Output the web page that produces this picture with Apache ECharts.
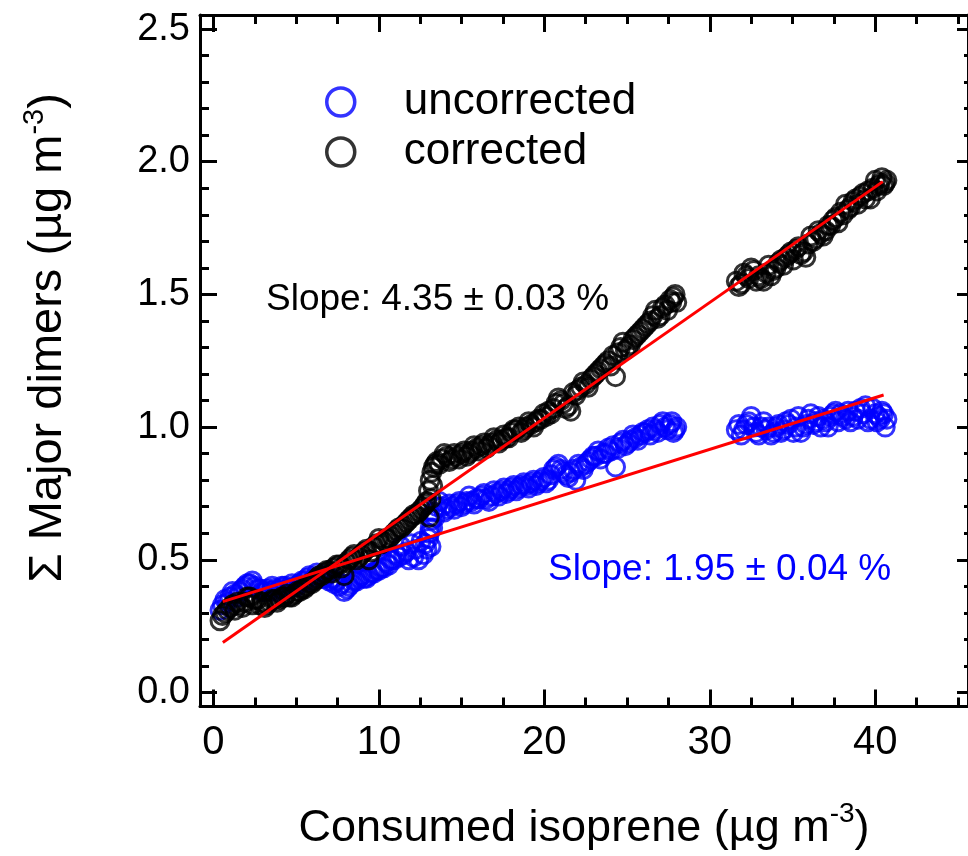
<!DOCTYPE html>
<html>
<head>
<meta charset="utf-8">
<script src="https://cdn.jsdelivr.net/npm/echarts@6/dist/echarts.min.js"></script>
<style>
  html, body { margin: 0; padding: 0; background: #fff; }
  #chart { width: 968px; height: 856px; }
</style>
</head>
<body>
<div id="chart"></div>
<script>
// ---- data ----
const consumedIsoprene = [
  0.4, 0.7, 1.0, 1.3, 1.6, 1.9, 2.2, 2.5, 2.8, 3.1, 3.4, 3.7, 4.0, 4.3, 4.6, 4.9,
  5.2, 5.5, 5.8, 6.1, 6.4, 6.7, 7.0, 7.3, 7.6, 7.9, 8.2, 8.5, 8.8, 9.1, 9.4, 9.7,
  10.0, 10.3, 10.6, 10.9, 11.2, 11.5, 11.8, 12.1, 12.4, 12.7, 12.9, 13.0, 13.1, 13.2,
  13.3, 13.5, 13.8, 14.1, 14.4, 14.7, 15.0, 15.3, 15.6, 15.9, 16.2, 16.5, 16.8, 17.1,
  17.4, 17.7, 18.0, 18.3, 18.6, 18.9, 19.2, 19.5, 19.8, 20.1, 20.4, 20.7, 21.0, 21.3,
  21.6, 21.9, 22.2, 22.5, 22.8, 23.1, 23.4, 23.7, 24.0, 24.3, 24.6, 24.9, 25.2, 25.5,
  25.8, 26.1, 26.4, 26.7, 27.0, 27.3, 27.6, 27.8, 28.0,
  31.6, 31.9, 32.2, 32.5, 32.8, 33.1, 33.4, 33.7, 34.0, 34.3, 34.6, 34.9, 35.2, 35.5,
  35.8, 36.1, 36.4, 36.7, 37.0, 37.3, 37.6, 37.9, 38.2, 38.5, 38.8, 39.1, 39.4, 39.7,
  40.0, 40.2, 40.4, 40.6, 40.7,
  // second pass of samples
  0.55, 0.85, 1.15, 1.45, 1.75, 2.05, 2.35, 2.65, 2.95, 3.25, 3.55, 3.85, 4.15, 4.45, 4.75, 5.05,
  5.35, 5.65, 5.95, 6.25, 6.55, 6.85, 7.15, 7.45, 7.75, 8.05, 8.35, 8.65, 8.95, 9.25, 9.55, 9.85,
  10.15, 10.45, 10.75, 11.05, 11.35, 11.65, 11.95, 12.25, 12.55, 12.8, 13.05, 13.15, 13.25, 13.4,
  13.65, 13.95, 14.25, 14.55, 14.85, 15.15, 15.45, 15.75, 16.05, 16.35, 16.65, 16.95, 17.25, 17.55,
  17.85, 18.15, 18.45, 18.75, 19.05, 19.35, 19.65, 19.95, 20.25, 20.55, 20.85, 21.15, 21.45, 21.75,
  22.05, 22.35, 22.65, 22.95, 23.25, 23.55, 23.85, 24.15, 24.45, 24.75, 25.05, 25.35, 25.65, 25.95,
  26.25, 26.55, 26.85, 27.15, 27.45, 27.7, 27.9,
  31.75, 32.05, 32.35, 32.65, 32.95, 33.25, 33.55, 33.85, 34.15, 34.45, 34.75, 35.05, 35.35, 35.65,
  35.95, 36.25, 36.55, 36.85, 37.15, 37.45, 37.75, 38.05, 38.35, 38.65, 38.95, 39.25, 39.55, 39.85,
  40.1, 40.3, 40.5
];
const uncorrectedDimers = [
  0.31, 0.35, 0.36, 0.37, 0.38, 0.40, 0.41, 0.40, 0.39, 0.38, 0.38, 0.39, 0.39, 0.40, 0.39, 0.40,
  0.41, 0.42, 0.44, 0.43, 0.44, 0.43, 0.42, 0.41, 0.40, 0.38, 0.40, 0.42, 0.43, 0.43, 0.44, 0.45,
  0.46, 0.47, 0.48, 0.50, 0.51, 0.52, 0.50, 0.51, 0.50, 0.52, 0.54, 0.58, 0.62, 0.65,
  0.68, 0.70, 0.70, 0.69, 0.70, 0.71, 0.70, 0.72, 0.72, 0.73, 0.74, 0.73, 0.74, 0.75,
  0.76, 0.75, 0.77, 0.76, 0.78, 0.78, 0.79, 0.78, 0.80, 0.79, 0.82, 0.85, 0.84, 0.82,
  0.83, 0.80, 0.85, 0.86, 0.88, 0.89, 0.88, 0.90, 0.91, 0.85, 0.94, 0.93, 0.95, 0.96,
  0.97, 0.98, 0.97, 0.99, 1.01, 1.00, 1.01, 0.98, 1.00,
  0.99, 0.97, 1.01, 1.04, 0.98, 1.00, 0.99, 0.97, 1.00, 0.98, 1.02, 1.03, 1.00, 0.98,
  1.01, 1.05, 1.02, 1.00, 1.02, 1.04, 1.06, 1.05, 1.03, 1.02, 1.06, 1.07, 1.08, 1.03,
  1.05, 1.04, 1.06, 1.00, 1.03,
  // second pass of samples
  0.33, 0.34, 0.38, 0.36, 0.39, 0.41, 0.42, 0.39, 0.38, 0.39, 0.40, 0.38, 0.40, 0.39, 0.41, 0.40,
  0.42, 0.43, 0.42, 0.45, 0.43, 0.44, 0.43, 0.42, 0.41, 0.39, 0.41, 0.42, 0.44, 0.43, 0.45, 0.46,
  0.47, 0.49, 0.50, 0.52, 0.55, 0.53, 0.56, 0.54, 0.57, 0.56, 0.60, 0.55, 0.62, 0.66,
  0.72, 0.68, 0.71, 0.69, 0.72, 0.71, 0.74, 0.71, 0.73, 0.75, 0.72, 0.76, 0.74, 0.77,
  0.76, 0.78, 0.77, 0.79, 0.77, 0.80, 0.79, 0.81, 0.80, 0.84, 0.86, 0.83, 0.81, 0.84,
  0.86, 0.84, 0.87, 0.89, 0.91, 0.90, 0.92, 0.93, 0.92, 0.95, 0.94, 0.97, 0.95, 0.98,
  0.99, 1.00, 0.98, 1.02, 0.99, 1.02, 0.99,
  1.01, 0.99, 1.02, 1.00, 0.97, 1.02, 1.00, 0.98, 1.01, 0.99, 1.01, 0.98, 1.04, 1.00,
  1.03, 1.01, 1.04, 1.03, 1.00, 1.05, 1.02, 1.04, 1.06, 1.04, 1.03, 1.05, 1.02, 1.07,
  1.02, 1.03, 1.05
];
const correctedDimers = [
  0.27, 0.30, 0.32, 0.31, 0.33, 0.34, 0.36, 0.35, 0.33, 0.32, 0.34, 0.35, 0.35, 0.36, 0.36, 0.37,
  0.38, 0.39, 0.41, 0.42, 0.44, 0.45, 0.46, 0.47, 0.48, 0.44, 0.50, 0.52, 0.51, 0.53, 0.50, 0.55,
  0.58, 0.57, 0.58, 0.60, 0.62, 0.63, 0.65, 0.67, 0.68, 0.70, 0.72, 0.76, 0.80, 0.83,
  0.85, 0.87, 0.88, 0.89, 0.88, 0.89, 0.90, 0.89, 0.91, 0.92, 0.93, 0.92, 0.94, 0.95,
  0.95, 0.96, 0.98, 0.99, 0.98, 1.00, 1.01, 1.02, 1.03, 1.04, 1.05, 1.09, 1.10, 1.07,
  1.06, 1.12, 1.15, 1.16, 1.18, 1.20, 1.22, 1.24, 1.23, 1.19, 1.30, 1.29, 1.31, 1.34,
  1.36, 1.38, 1.40, 1.44, 1.42, 1.46, 1.48, 1.49, 1.47,
  1.55, 1.54, 1.57, 1.60, 1.55, 1.56, 1.58, 1.57, 1.60, 1.63, 1.64, 1.66, 1.67, 1.65,
  1.64, 1.72, 1.71, 1.73, 1.74, 1.76, 1.79, 1.81, 1.84, 1.83, 1.86, 1.87, 1.86, 1.86,
  1.93, 1.91, 1.94, 1.92, 1.93,
  // second pass of samples
  0.29, 0.31, 0.33, 0.34, 0.32, 0.36, 0.33, 0.35, 0.34, 0.33, 0.35, 0.34, 0.36, 0.37, 0.36, 0.38,
  0.39, 0.40, 0.41, 0.43, 0.44, 0.46, 0.45, 0.48, 0.47, 0.49, 0.51, 0.50, 0.52, 0.54, 0.53, 0.56,
  0.56, 0.58, 0.59, 0.61, 0.62, 0.64, 0.66, 0.67, 0.69, 0.71, 0.66, 0.73, 0.78, 0.86,
  0.86, 0.90, 0.87, 0.90, 0.88, 0.91, 0.90, 0.93, 0.91, 0.94, 0.93, 0.96, 0.94, 0.97,
  0.96, 0.99, 1.00, 0.99, 1.02, 1.00, 1.03, 1.05, 1.06, 1.07, 1.11, 1.09, 1.08, 1.13,
  1.14, 1.17, 1.15, 1.19, 1.21, 1.23, 1.25, 1.27, 1.28, 1.32, 1.30, 1.33, 1.35, 1.37,
  1.39, 1.42, 1.41, 1.45, 1.44, 1.47, 1.50,
  1.53, 1.58, 1.56, 1.59, 1.57, 1.55, 1.61, 1.59, 1.62, 1.61, 1.65, 1.63, 1.68, 1.66,
  1.69, 1.70, 1.74, 1.72, 1.76, 1.78, 1.77, 1.80, 1.82, 1.85, 1.84, 1.88, 1.89, 1.90,
  1.89, 1.92, 1.91
];
// linear fit end points [x, y]
const correctedFitLine = [[0.57, 0.188], [40.45, 1.925]];
const uncorrectedFitLine = [[0.57, 0.342], [40.5, 1.121]];

const seriesNames = ['uncorrected', 'corrected'];
const seriesColors = ['#0000ff', '#000000'];
const slopeTexts = ['Slope: 1.95 \u00b1 0.04 %', 'Slope: 4.35 \u00b1 0.03 %'];

const xMajorTicks = [0, 10, 20, 30, 40];
const xMinorTicks = [2.5, 5, 7.5, 12.5, 15, 17.5, 22.5, 25, 27.5, 32.5, 35, 37.5, 42.5, 45];
const yMajorTicks = [0, 0.5, 1.0, 1.5, 2.0, 2.5];
const yMajorLabels = ['0.0', '0.5', '1.0', '1.5', '2.0', '2.5'];
const yMinorTicks = [0.1, 0.2, 0.3, 0.4, 0.6, 0.7, 0.8, 0.9, 1.1, 1.2, 1.3, 1.4,
                     1.6, 1.7, 1.8, 1.9, 2.1, 2.2, 2.3, 2.4];

const xRange = [-0.81, 45.6];
const yRange = [-0.053, 2.553];

// ---- chart ----
const FONT = '"Liberation Sans", Arial, sans-serif';
const chart = echarts.init(document.getElementById('chart'), null, { renderer: 'canvas' });

const pairs = (ys) => consumedIsoprene.map((x, i) => [x, ys[i]]);

function xAxisDef(pos, ticks, len, withLabels, extra) {
  return Object.assign({
    type: 'value', position: pos, min: xRange[0], max: xRange[1],
    axisLine: { show: true, onZero: false, lineStyle: { color: '#000', width: 3 } },
    axisTick: { show: true, inside: true, length: len, customValues: ticks, lineStyle: { color: '#000', width: 3 } },
    axisLabel: withLabels ? { show: true, customValues: ticks, color: '#000', fontSize: 40, fontFamily: FONT, margin: 16 } : { show: false },
    splitLine: { show: false }, minorTick: { show: false }
  }, extra || {});
}
function yAxisDef(pos, ticks, len, withLabels, extra) {
  return Object.assign({
    type: 'value', position: pos, min: yRange[0], max: yRange[1],
    axisLine: { show: true, onZero: false, lineStyle: { color: '#000', width: 3 } },
    axisTick: { show: true, inside: true, length: len, customValues: ticks, lineStyle: { color: '#000', width: 3 } },
    axisLabel: withLabels ? {
      show: true, customValues: ticks, color: '#000', fontSize: 38, fontFamily: FONT, margin: 10,
      formatter: (v) => yMajorLabels[yMajorTicks.findIndex(t => Math.abs(t - v) < 1e-9)]
    } : { show: false },
    splitLine: { show: false }, minorTick: { show: false }
  }, extra || {});
}

const option = {
  animation: false,
  backgroundColor: '#fff',
  textStyle: { fontFamily: FONT },
  grid: { left: 200, top: 15, width: 770, height: 693, containLabel: false },
  xAxis: [
    xAxisDef('bottom', xMajorTicks, 17, true, {
      name: '{n|Consumed isoprene (\u00b5g m}{s|-3}{n|)}',
      nameLocation: 'middle', nameGap: 94,
      nameTextStyle: {
        color: '#000', fontFamily: FONT,
        rich: {
          n: { fontSize: 45, lineHeight: 56, fontFamily: FONT, color: '#000' },
          s: { fontSize: 28, lineHeight: 12, verticalAlign: 'top', fontFamily: FONT, color: '#000' }
        }
      }
    }),
    xAxisDef('bottom', xMinorTicks, 9, false, { axisLine: { show: false, onZero: false } }),
    xAxisDef('top', xMajorTicks, 17, false),
    xAxisDef('top', xMinorTicks, 9, false, { axisLine: { show: false, onZero: false } })
  ],
  yAxis: [
    yAxisDef('left', yMajorTicks, 17, true, {
      name: '{n|\u03a3 Major dimers (\u00b5g m}{s|-3}{n|)}',
      nameLocation: 'middle', nameRotate: 90, nameGap: 124,
      nameTextStyle: {
        color: '#000', fontFamily: FONT, padding: [0, 0, 0, 46],
        rich: {
          n: { fontSize: 47, lineHeight: 56, fontFamily: FONT, color: '#000' },
          s: { fontSize: 29, lineHeight: 12, verticalAlign: 'top', fontFamily: FONT, color: '#000' }
        }
      }
    }),
    yAxisDef('left', yMinorTicks, 9, false, { axisLine: { show: false, onZero: false } }),
    yAxisDef('right', yMajorTicks, 11, false),
    yAxisDef('right', yMinorTicks, 4, false, { axisLine: { show: false, onZero: false } })
  ],
  legend: {
    data: seriesNames.map((n, i) => ({
      name: n, icon: 'circle',
      itemStyle: { color: 'rgba(0,0,0,0)', borderColor: seriesColors[i], borderWidth: 3.5 }
    })),
    orient: 'vertical', left: 325, top: 80, padding: 0,
    itemWidth: 116, itemHeight: 28, itemGap: 6,
    itemStyle: { borderWidth: 3.5 },
    textStyle: { fontSize: 44, lineHeight: 44, color: '#000', fontFamily: FONT }
  },
  series: [
    {
      name: seriesNames[0], type: 'scatter', xAxisIndex: 0, yAxisIndex: 0,
      symbol: 'circle', symbolSize: 18,
      itemStyle: { color: 'rgba(0,0,0,0)', borderColor: seriesColors[0], borderWidth: 3 },
      data: pairs(uncorrectedDimers), z: 2
    },
    {
      name: seriesNames[1], type: 'scatter', xAxisIndex: 0, yAxisIndex: 0,
      symbol: 'circle', symbolSize: 18,
      itemStyle: { color: 'rgba(0,0,0,0)', borderColor: seriesColors[1], borderWidth: 3 },
      data: pairs(correctedDimers), z: 3
    },
    {
      name: 'fit corrected', type: 'line', xAxisIndex: 0, yAxisIndex: 0,
      data: correctedFitLine, showSymbol: false, symbol: 'none',
      lineStyle: { color: '#ff0000', width: 3 }, z: 4, silent: true
    },
    {
      name: 'fit uncorrected', type: 'line', xAxisIndex: 0, yAxisIndex: 0,
      data: uncorrectedFitLine, showSymbol: false, symbol: 'none',
      lineStyle: { color: '#ff0000', width: 3 }, z: 4, silent: true
    }
  ],
  graphic: [
    { type: 'text', x: 266, y: 300, z: 10,
      style: { text: slopeTexts[1], fontSize: 37, fontFamily: FONT, fill: '#000', align: 'left', verticalAlign: 'middle' } },
    { type: 'text', x: 548, y: 570, z: 10,
      style: { text: slopeTexts[0], fontSize: 37, fontFamily: FONT, fill: '#0000ff', align: 'left', verticalAlign: 'middle' } }
  ]
};
chart.setOption(option);
</script>
</body>
</html>
